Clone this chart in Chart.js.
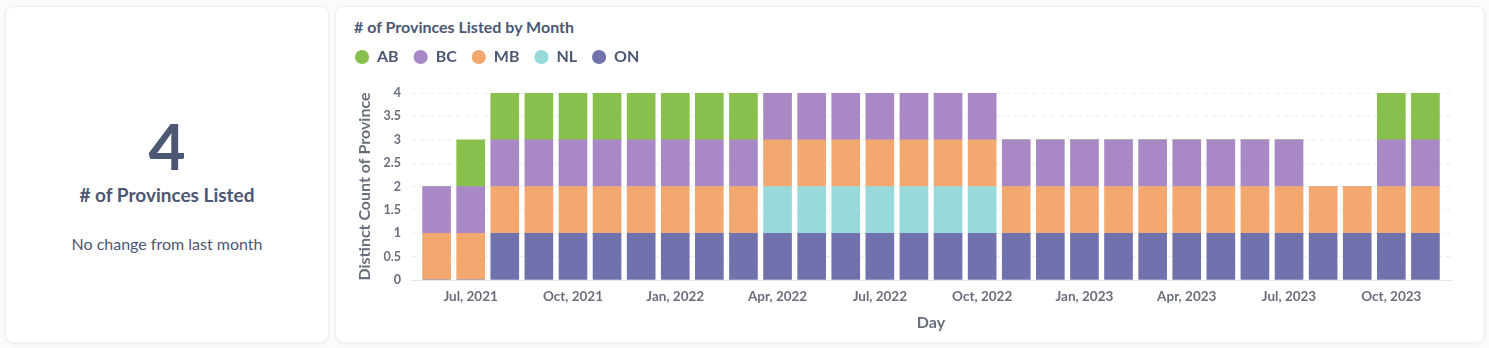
<!DOCTYPE html>
<html>
<head>
<meta charset="utf-8">
<script src="https://cdn.jsdelivr.net/npm/chart.js@4"></script>
<style>
  html, body { margin: 0; padding: 0; }
  body { width: 1489px; height: 348px; background: #F9FBFC; position: relative; overflow: hidden; font-family: Lato, sans-serif; color: #4C5773; }
  .card { position: absolute; background: #fff; border: 1px solid #EEF0F3; border-radius: 8px; box-shadow: 0 1px 3px rgba(0,0,0,0.06); box-sizing: border-box; }
  .txt { position: absolute; white-space: nowrap; line-height: 1; }
</style>
</head>
<body>
<div class="card" style="left:5px;top:6px;width:324px;height:337px;"></div>
<div class="card" style="left:335px;top:6px;width:1150px;height:337px;"></div>

<div class="txt" style="left:5px;width:324px;text-align:center;top:114px;font-size:64px;font-weight:700;">4</div>
<div class="txt" style="left:5px;width:324px;text-align:center;top:185px;font-size:19px;font-weight:700;"># of Provinces Listed</div>
<div class="txt" style="left:5px;width:324px;text-align:center;top:235.5px;font-size:16px;font-weight:400;">No change from last month</div>

<div class="txt" style="left:354px;top:18.5px;font-size:16px;font-weight:700;"># of Provinces Listed by Month</div>

<div style="position:absolute;left:335px;top:34px;width:1149px;height:309px;">
  <canvas id="c" width="1149" height="309"></canvas>
</div>

<script>
// ---- data ----
const months = [
  'Jun 2021','Jul 2021','Aug 2021','Sep 2021','Oct 2021','Nov 2021','Dec 2021',
  'Jan 2022','Feb 2022','Mar 2022','Apr 2022','May 2022','Jun 2022','Jul 2022',
  'Aug 2022','Sep 2022','Oct 2022','Nov 2022','Dec 2022','Jan 2023','Feb 2023',
  'Mar 2023','Apr 2023','May 2023','Jun 2023','Jul 2023','Aug 2023','Sep 2023',
  'Oct 2023','Nov 2023'
];
const ON = [0,0,1,1,1,1,1,1,1,1,1,1,1,1,1,1,1,1,1,1,1,1,1,1,1,1,1,1,1,1];
const NL = [0,0,0,0,0,0,0,0,0,0,1,1,1,1,1,1,1,0,0,0,0,0,0,0,0,0,0,0,0,0];
const MB = [1,1,1,1,1,1,1,1,1,1,1,1,1,1,1,1,1,1,1,1,1,1,1,1,1,1,1,1,1,1];
const BC = [1,1,1,1,1,1,1,1,1,1,1,1,1,1,1,1,1,1,1,1,1,1,1,1,1,1,0,0,1,1];
const AB = [0,1,1,1,1,1,1,1,1,1,0,0,0,0,0,0,0,0,0,0,0,0,0,0,0,0,0,0,1,1];
const tickIndex = [1,4,7,10,13,16,19,22,25,28];
const tickLabels = ['Jul, 2021','Oct, 2021','Jan, 2022','Apr, 2022','Jul, 2022','Oct, 2022','Jan, 2023','Apr, 2023','Jul, 2023','Oct, 2023'];
const yTicks = { min: 0, max: 4, step: 0.5 };

// ---- chart ----
Chart.defaults.font.family = 'Lato, sans-serif';
const toPoints = arr => arr.map((v, i) => ({ x: i, y: v }));
const series = [
  { label: 'ON', data: ON, color: '#7172AD' },
  { label: 'NL', data: NL, color: '#98D9D9' },
  { label: 'MB', data: MB, color: '#F2A86F' },
  { label: 'BC', data: BC, color: '#A989C5' },
  { label: 'AB', data: AB, color: '#88BF4D' }
];

const legendHeight = {
  id: 'legendHeight',
  beforeLayout(chart) {
    const lg = chart.legend;
    if (lg && !lg._fixedH) {
      const f = lg.fit;
      lg.fit = function () { f.call(this); this.height = 59; };
      lg._fixedH = true;
    }
  }
};

new Chart(document.getElementById('c'), {
  type: 'bar',
  data: {
    datasets: series.map(s => ({
      label: s.label,
      data: toPoints(s.data),
      backgroundColor: s.color,
      borderWidth: 0,
      barThickness: 28
    }))
  },
  options: {
    responsive: false,
    animation: false,
    devicePixelRatio: 1,
    layout: { padding: { left: 5, right: 33, top: 0, bottom: 0 } },
    plugins: {
      legend: {
        position: 'top',
        align: 'start',
        reverse: true,
        labels: {
          usePointStyle: true,
          pointStyle: 'circle',
          boxWidth: 14,
          boxHeight: 10,
          padding: 15,
          color: '#4C5773',
          font: { size: 16, weight: '700' }
        }
      },
      tooltip: { enabled: false }
    },
    scales: {
      x: {
        type: 'linear',
        stacked: true,
        offset: false,
        min: -0.75,
        max: 29.75,
        afterBuildTicks(scale) { scale.ticks = tickIndex.map(v => ({ value: v })); },
        afterFit(scale) { scale.height = 63; },
        grid: { display: false, drawTicks: false, offset: false },
        border: { display: true, color: '#E3E6EA', width: 1 },
        ticks: {
          autoSkip: false,
          maxRotation: 0,
          padding: 9,
          color: '#696E7B',
          font: { size: 13.5, weight: '700' },
          callback: (v) => { const k = tickIndex.indexOf(v); return k >= 0 ? tickLabels[k] : ''; }
        },
        title: {
          display: true,
          text: 'Day',
          color: '#696E7B',
          font: { size: 16, weight: '700' },
          padding: { top: 0, bottom: 11 }
        }
      },
      y: {
        stacked: true,
        min: yTicks.min,
        max: yTicks.max,
        afterFit(scale) { scale.width = 71; },
        grid: { color: '#EDEFF2', drawTicks: false, lineWidth: 1 },
        border: { display: false, dash: [5, 4] },
        ticks: {
          stepSize: yTicks.step,
          padding: 10,
          color: '#696E7B',
          font: { size: 12.5, weight: '700' },
          callback: (v) => String(v)
        },
        title: {
          display: true,
          text: 'Distinct Count of Province',
          color: '#696E7B',
          font: { size: 16, weight: '700' },
          padding: { top: 15, bottom: 0 }
        }
      }
    }
  },
  plugins: [legendHeight]
});
</script>
</body>
</html>
